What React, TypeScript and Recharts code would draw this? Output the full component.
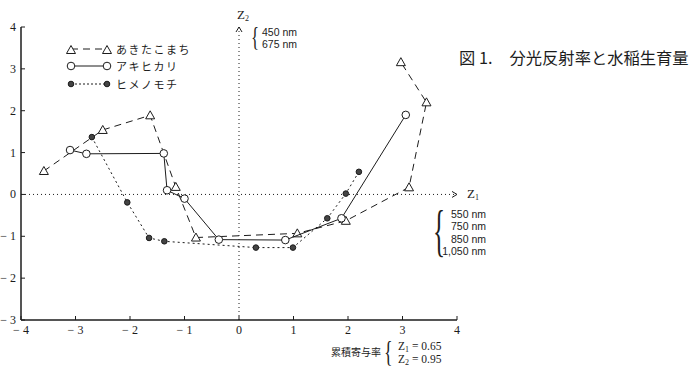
import React from 'react';
import { ScatterChart, Scatter, XAxis, YAxis, ReferenceLine } from 'recharts';

const xTicks = [-4, -3, -2, -1, 0, 1, 2, 3, 4];
const yTicks = [-3, -2, -1, 0, 1, 2, 3, 4];

// あきたこまち
const akitaX = [-3.58, -2.5, -1.63, -1.16, -0.79, 1.07, 1.96, 3.12, 3.44, 2.97];
const akitaY = [0.56, 1.54, 1.89, 0.18, -1.03, -0.93, -0.63, 0.17, 2.2, 3.16];
// アキヒカリ
const akihiX = [-3.1, -2.8, -1.38, -1.32, -1.0, -0.37, 0.85, 1.88, 3.06];
const akihiY = [1.06, 0.97, 0.98, 0.1, -0.1, -1.08, -1.09, -0.57, 1.9];
// ヒメノモチ
const himeX = [-2.7, -2.05, -1.65, -1.37, 0.31, 0.99, 1.62, 1.96, 2.2];
const himeY = [1.37, -0.19, -1.04, -1.12, -1.27, -1.27, -0.57, 0.02, 0.54];

const toPoints = (xs: number[], ys: number[]) => xs.map((x, i) => ({ x, y: ys[i] }));

const INK = '#1c1c1c';
const SERIF = '"Liberation Serif", "DejaVu Serif", serif';
const JP = '"Noto Sans CJK JP", sans-serif';
const SANS = '"Liberation Sans", Arial, sans-serif';

const fmt = (v: number) => (v < 0 ? `\u2212 ${Math.abs(v)}` : `${v}`);

const YTick = ({ x, y, payload }: any) => (
  <g>
    <line x1={x + 5} x2={x + 9} y1={y} y2={y} stroke={INK} />
    <text x={x} y={y} dy={4} textAnchor="end" fontSize={12} fontFamily={SERIF} fill={INK}>
      {fmt(payload.value)}
    </text>
  </g>
);

const XTick = ({ x, y, payload }: any) => (
  <g>
    <line x1={x} x2={x} y1={y - 6} y2={y - 10} stroke={INK} />
    <text x={x} y={y} dy={8} textAnchor="middle" fontSize={12} fontFamily={SERIF} fill={INK}>
      {fmt(payload.value)}
    </text>
  </g>
);

const Tri = ({ cx, cy }: any) => (
  <polygon points={`${cx},${cy - 4.5} ${cx - 4.5},${cy + 3.5} ${cx + 4.5},${cy + 3.5}`} fill="#fff" stroke={INK} />
);
const Ring = ({ cx, cy }: any) => <circle cx={cx} cy={cy} r={3.8} fill="#fff" stroke={INK} />;
const Dot = ({ cx, cy }: any) => <circle cx={cx} cy={cy} r={2.8} fill="#444" stroke={INK} />;

const Z1Label = ({ viewBox }: any) => {
  const ex = viewBox.x + viewBox.width;
  const ey = viewBox.y;
  return (
    <g>
      <polyline points={`${ex - 5},${ey - 3} ${ex},${ey} ${ex - 5},${ey + 3}`} fill="none" stroke={INK} />
      <text x={ex + 10} y={ey + 4} fontSize={13} fontFamily={SERIF} fill={INK}>
        Z<tspan fontSize={8} dy={2}>1</tspan>
      </text>
    </g>
  );
};

const Z2Label = ({ viewBox }: any) => {
  const ex = viewBox.x;
  const ey = viewBox.y;
  return (
    <g>
      <polyline points={`${ex - 3},${ey + 5} ${ex},${ey} ${ex + 3},${ey + 5}`} fill="none" stroke={INK} />
      <text x={ex - 2} y={ey - 8} fontSize={13} fontFamily={SERIF} fill={INK}>
        Z<tspan fontSize={8} dy={2}>2</tspan>
      </text>
    </g>
  );
};

const abs = (left: number, top: number, extra: React.CSSProperties = {}): React.CSSProperties => ({
  position: 'absolute',
  left,
  top,
  color: INK,
  whiteSpace: 'nowrap',
  lineHeight: 1,
  ...extra,
});

const LegendRow = ({ top, label, kind }: { top: number; label: string; kind: 'tri' | 'ring' | 'dot' }) => (
  <div style={abs(63, top - 7)}>
    <svg width={52} height={14} style={{ verticalAlign: 'middle' }}>
      <line
        x1={8}
        x2={44}
        y1={7}
        y2={7}
        stroke={INK}
        strokeDasharray={kind === 'tri' ? '7 5' : kind === 'dot' ? '2 2' : undefined}
      />
      {kind === 'tri' && <Tri cx={8} cy={8} />}
      {kind === 'tri' && <Tri cx={44} cy={8} />}
      {kind === 'ring' && <Ring cx={8} cy={7} />}
      {kind === 'ring' && <Ring cx={44} cy={7} />}
      {kind === 'dot' && <Dot cx={8} cy={7} />}
      {kind === 'dot' && <Dot cx={44} cy={7} />}
    </svg>
    <span style={{ fontFamily: JP, fontSize: 11, letterSpacing: 1.5, marginLeft: 1, verticalAlign: 'middle' }}>{label}</span>
  </div>
);

const Zline = ({ top, n, val }: { top: number; n: string; val: string }) => (
  <div style={abs(398, top, { fontFamily: SERIF, fontSize: 11.5 })}>
    Z<span style={{ fontSize: 8, position: 'relative', top: 2 }}>{n}</span> = {val}
  </div>
);

export default function App() {
  return (
    <div style={{ position: 'absolute', left: 0, top: 0, width: 700, height: 369, background: '#fff', overflow: 'hidden' }}>
      <ScatterChart width={700} height={369} margin={{ top: 27, right: 243, bottom: 29, left: 0 }}>
        <XAxis
          type="number"
          dataKey="x"
          domain={[-4, 4]}
          ticks={xTicks}
          height={20}
          tickSize={0}
          tickMargin={6}
          tickLine={false}
          tick={<XTick />}
          axisLine={{ stroke: INK, strokeWidth: 1.5 }}
          interval={0}
        />
        <YAxis
          type="number"
          dataKey="y"
          domain={[-3, 4]}
          ticks={yTicks}
          width={21}
          tickSize={0}
          tickMargin={5}
          tickLine={false}
          tick={<YTick />}
          axisLine={{ stroke: INK, strokeWidth: 1.5 }}
          interval={0}
        />
        <ReferenceLine y={0} stroke={INK} strokeDasharray="1 3" label={<Z1Label />} />
        <ReferenceLine x={0} stroke={INK} strokeDasharray="1 3" label={<Z2Label />} />
        <Scatter
          name="あきたこまち"
          data={toPoints(akitaX, akitaY)}
          line={{ stroke: INK, strokeWidth: 1, strokeDasharray: '7 5' }}
          lineType="joint"
          shape={<Tri />}
          isAnimationActive={false}
        />
        <Scatter
          name="アキヒカリ"
          data={toPoints(akihiX, akihiY)}
          line={{ stroke: INK, strokeWidth: 1 }}
          lineType="joint"
          shape={<Ring />}
          isAnimationActive={false}
        />
        <Scatter
          name="ヒメノモチ"
          data={toPoints(himeX, himeY)}
          line={{ stroke: INK, strokeWidth: 1, strokeDasharray: '2 3' }}
          lineType="joint"
          shape={<Dot />}
          isAnimationActive={false}
        />
      </ScatterChart>

      <LegendRow top={47} label="あきたこまち" kind="tri" />
      <LegendRow top={64} label="アキヒカリ" kind="ring" />
      <LegendRow top={82} label="ヒメノモチ" kind="dot" />

      <div style={abs(459, 49, { fontFamily: JP, fontSize: 16.3 })}>
        図 1.<span style={{ marginLeft: 17 }}>分光反射率と水稲生育量</span>
      </div>

      <div style={abs(251, 23, { fontFamily: SERIF, fontSize: 28, transform: 'scaleX(0.6)', transformOrigin: 'left top' })}>{'{'}</div>
      <div style={abs(262, 26, { fontFamily: SANS, fontSize: 10.5, lineHeight: '12px' })}>
        450 nm
        <br />
        675 nm
      </div>

      <div style={abs(433, 203, { fontFamily: SERIF, fontSize: 56, transform: 'scaleX(0.45)', transformOrigin: 'left top' })}>{'{'}</div>
      <div style={abs(440, 208, { fontFamily: SANS, fontSize: 10.5, lineHeight: '12.4px', textAlign: 'right', width: 46 })}>
        550 nm
        <br />
        750 nm
        <br />
        850 nm
        <br />
        1,050 nm
      </div>

      <div style={abs(331, 347, { fontFamily: JP, fontSize: 10 })}>累積寄与率</div>
      <div style={abs(384, 336, { fontFamily: SERIF, fontSize: 30, transform: 'scaleX(0.6)', transformOrigin: 'left top' })}>{'{'}</div>
      <Zline top={341} n="1" val="0.65" />
      <Zline top={354} n="2" val="0.95" />
    </div>
  );
}
